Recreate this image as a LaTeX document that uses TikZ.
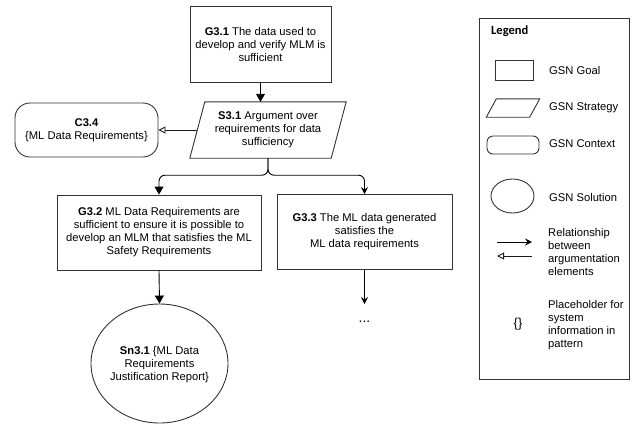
\documentclass[tikz,border=0pt]{standalone}
\usepackage{fontspec}
\setmainfont{Liberation Sans}
\newfontfamily\legendfont{Carlito}
\usetikzlibrary{shapes.geometric,arrows.meta}
\begin{document}
\begin{tikzpicture}[x=1bp,y=-1bp, font=\fontsize{11.2bp}{13bp}\selectfont,
  gsnline/.style={draw=black!80, line width=0.9bp},
  goal/.style={gsnline, rectangle, align=center, inner sep=0},
  ctx/.style={gsnline, rounded corners=15bp, align=center, inner sep=0},
  sol/.style={gsnline, ellipse, inner sep=0},
  txt/.style={align=center, inner sep=0},
  bigarrow/.style={draw=black, -{Triangle[width=9bp,length=8bp]}, line width=0.9bp},
  smallarrow/.style={draw=black, -{Stealth[width=7bp,length=7bp,inset=2.5bp]}, line width=0.9bp},
  ctxarrow/.style={draw=black!90, -{Triangle[open,width=7bp,length=7bp]}, line width=0.9bp},
  ltxt/.style={anchor=west, align=left, inner sep=0},
]
\useasboundingbox (0,0) rectangle (639,428);
\fill[white] (0,0) rectangle (639,428);

% main argument
\node[goal, minimum width=141bp, minimum height=76bp] (G31) at (260.5,44)
  {\textbf{G3.1} The data used to\\develop and verify MLM is\\sufficient};

\node[txt, minimum width=141bp, minimum height=56bp] (S31) at (268,130)
  {\textbf{S3.1} Argument over\\requirements for data\\sufficiency};
\draw[gsnline] ([xshift=7.5bp]S31.north west) -- ([xshift=7.5bp]S31.north east)
  -- ([xshift=-7.5bp]S31.south east) -- ([xshift=-7.5bp]S31.south west) -- cycle;

\node[ctx, minimum width=143bp, minimum height=54bp] (C34) at (86.5,130)
  {\textbf{C3.4}\\\{ML Data Requirements\}};

\node[goal, minimum width=204bp, minimum height=75bp] (G32) at (159,232.5)
  {\textbf{G3.2} ML Data Requirements are\\sufficient to ensure it is possible to\\develop an MLM that satisfies the ML\\Safety Requirements};

\node[goal, minimum width=175bp, minimum height=75bp] (G33) at (364.5,232)
  {\textbf{G3.3} The ML data generated\\satisfies the\\ML data requirements};

\node[sol, minimum width=137bp, minimum height=119bp] (Sn31) at (159.5,363.5) {};
\node[txt] (Sn31t) at (159.5,364.5)
  {\textbf{Sn3.1} \{ML Data\\Requirements\\Justification Report\}};

\coordinate (G33end) at (364.5,304);
\node[txt, font=\fontsize{14bp}{16bp}\selectfont] (G33dots) at (364.5,322) {...};

% connectors
\draw[bigarrow] (G31.south) -- (G31.south |- S31.north);
\draw[ctxarrow] (S31.west) -- (C34.east);
\draw[bigarrow, rounded corners=6bp] (S31.south) -- ++(0,17) -| (G32.north);
\draw[smallarrow, rounded corners=6bp] (S31.south) -- ++(0,17) -| (G33.north);
\draw[bigarrow] (G32.south) -- (Sn31.north);
\draw[smallarrow] (G33.south) -- (G33end);

% legend
\node[gsnline, minimum width=150bp, minimum height=361bp, inner sep=0] (Leg) at (554,198.5) {};
\node[anchor=west, inner sep=0, font=\legendfont\bfseries\fontsize{12.5bp}{14bp}\selectfont] (LegT) at (491,31) {Legend};

\node[gsnline, minimum width=38bp, minimum height=20bp, inner sep=0] (LG) at (514,70) {};
\node[ltxt] (LGt) at (549,70) {GSN Goal};

\node[inner sep=0, minimum width=43bp, minimum height=18bp] (LS) at (513,108) {};
\draw[gsnline] ([xshift=5bp]LS.north west) -- ([xshift=5bp]LS.north east)
  -- ([xshift=-5bp]LS.south east) -- ([xshift=-5bp]LS.south west) -- cycle;
\node[ltxt] (LSt) at (549,108) {GSN Strategy};

\node[gsnline, rounded corners=6bp, minimum width=52bp, minimum height=18bp, inner sep=0] (LC) at (513,145) {};
\node[ltxt] (LCt) at (549,144) {GSN Context};

\node[sol, minimum width=43bp, minimum height=34bp] (LSo) at (512.5,196) {};
\node[ltxt] (LSot) at (549,197) {GSN Solution};

\coordinate (LA1s) at (497,242);
\coordinate (LA1e) at (532,242);
\coordinate (LA2s) at (532,256);
\coordinate (LA2e) at (497,256);
\draw[smallarrow] (LA1s) -- (LA1e);
\draw[ctxarrow] (LA2s) -- (LA2e);
\node[ltxt] (LAt) at (548,251.5) {Relationship\\between\\argumentation\\elements};

\node[inner sep=0, font=\fontsize{13bp}{15bp}\selectfont] (LB) at (518,324) {\{\}};
\node[ltxt] (LBt) at (548,325.5) {Placeholder for\\system\\information in\\pattern};
\end{tikzpicture}
\end{document}
